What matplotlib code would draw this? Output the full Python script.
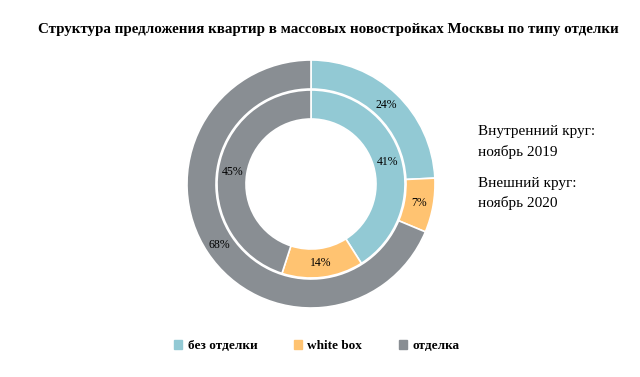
import matplotlib.pyplot as plt

plt.rcParams['font.family'] = ['Liberation Serif', 'DejaVu Serif']

categories = ['без отделки', 'white box', 'отделка']
inner_values = [41, 14, 45]   # ноябрь 2019
outer_values = [24, 7, 68]    # ноябрь 2020
colors = ['#92C9D4', '#FFC371', '#898E93']

title = 'Структура предложения квартир в массовых новостройках Москвы по типу отделки'
note_lines = ['Внутренний круг:', 'ноябрь 2019', 'Внешний круг:', 'ноябрь 2020']
note_y = [132, 152, 183, 203]

fig = plt.figure(figsize=(6.4, 3.77), dpi=100)
ax = fig.add_axes([187 / 640, 69 / 377, 248 / 640, 248 / 377])

ring = 29 / 124
wedge = dict(width=ring, edgecolor='white', linewidth=1.2)

ax.pie(outer_values, radius=1.0, colors=colors, startangle=90, counterclock=False,
       wedgeprops=wedge, labels=[f'{v}%' for v in outer_values], labeldistance=0.885,
       textprops=dict(fontsize=8.5, ha='center', va='center'))
ax.pie(inner_values, radius=94 / 124, colors=colors, startangle=90, counterclock=False,
       wedgeprops=wedge, labels=[f'{v}%' for v in inner_values], labeldistance=0.845,
       textprops=dict(fontsize=8.5, ha='center', va='center'))
ax.set_xlim(-1, 1)
ax.set_ylim(-1, 1)
ax.set_aspect('equal')

fig.text(328.5 / 640, 1 - 29 / 377, title, ha='center', va='center', fontsize=10.8, fontweight='bold')
for line, y in zip(note_lines, note_y):
    fig.text(478 / 640, 1 - y / 377, line, ha='left', va='center', fontsize=11)

handles = [plt.Rectangle((0, 0), 1, 1, color=c) for c in colors]
fig.legend(handles, categories, loc='center', bbox_to_anchor=(317 / 640, 1 - 346 / 377), ncol=3,
           frameon=False, handlelength=0.6, handleheight=0.6, handletextpad=0.4,
           columnspacing=2.8, prop=dict(weight='bold', size=9.5))

fig.savefig('out.png', dpi=100)
